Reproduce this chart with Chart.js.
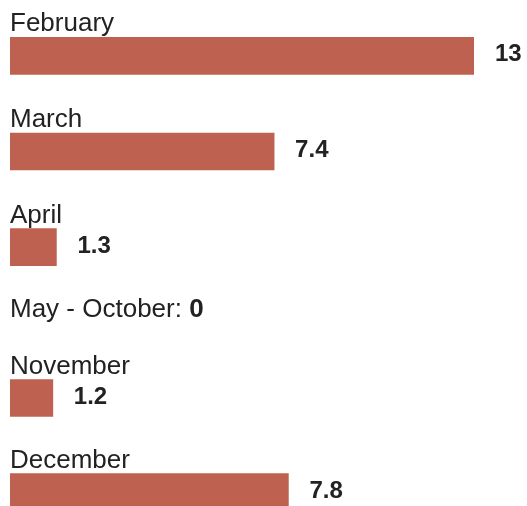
<!DOCTYPE html>
<html>
<head>
<meta charset="utf-8">
<script src="https://cdn.jsdelivr.net/npm/chart.js@4.4.1/dist/chart.umd.min.js"></script>
<style>
  html, body { margin: 0; padding: 0; background: #fff; overflow: hidden; }
  body { width: 527px; height: 506px; position: relative; font-family: Arial, "Liberation Sans", sans-serif; }
  .box { position: absolute; left: 0; width: 527px; }
  #topBox { top: 0; height: 295px; }
  #bottomBox { top: 351px; height: 188px; }
  #gapRow { position: absolute; left: 10px; top: 295px; font-size: 26px; line-height: 26px; color: #222; white-space: nowrap; }
  #gapRow b { font-weight: bold; }
</style>
</head>
<body>
<div class="box" id="topBox"><canvas id="topChart"></canvas></div>
<div id="gapRow"></div>
<div class="box" id="bottomBox"><canvas id="bottomChart"></canvas></div>
<script>
// data
const topMonths = ['February', 'March', 'April'];
const topValues = [13, 7.4, 1.3];
const gapLabel = 'May - October';
const gapValue = 0;
const bottomMonths = ['November', 'December'];
const bottomValues = [1.2, 7.8];

const barColor = '#bf6150';
const textColor = '#222222';
const fontFamily = 'Arial, "Liberation Sans", sans-serif';
const xMax = 13;

document.getElementById('gapRow').innerHTML = gapLabel + ': <b>' + gapValue + '</b>';

// draws month name above each bar and the value to its right
const barLabels = {
    id: 'barLabels',
    afterDatasetsDraw(chart) {
        const ctx = chart.ctx;
        const meta = chart.getDatasetMeta(0);
        const labels = chart.data.labels;
        const values = chart.data.datasets[0].data;
        ctx.save();
        ctx.fillStyle = textColor;
        meta.data.forEach((bar, i) => {
            const top = bar.y - bar.height / 2;
            ctx.font = '26px ' + fontFamily;
            ctx.textAlign = 'left';
            ctx.textBaseline = 'alphabetic';
            ctx.fillText(labels[i], chart.chartArea.left, top - 6);

            ctx.font = 'bold 24px ' + fontFamily;
            ctx.textBaseline = 'middle';
            ctx.fillText(String(values[i]), bar.x + 21, bar.y - 1);
        });
        ctx.restore();
    }
};

function makeChart(canvasId, labels, values, padding) {
    return new Chart(document.getElementById(canvasId).getContext('2d'), {
        type: 'bar',
        data: {
            labels: labels,
            datasets: [{
                data: values,
                backgroundColor: barColor,
                borderWidth: 0,
                barThickness: 37
            }]
        },
        options: {
            indexAxis: 'y',
            responsive: true,
            maintainAspectRatio: false,
            animation: false,
            layout: { padding: padding },
            scales: {
                x: { display: false, min: 0, max: xMax },
                y: { display: false }
            },
            plugins: {
                legend: { display: false },
                tooltip: { enabled: false }
            }
        },
        plugins: [barLabels]
    });
}

makeChart('topChart', topMonths, topValues, { left: 10, right: 53, top: 8, bottom: 0 });
makeChart('bottomChart', bottomMonths, bottomValues, { left: 10, right: 53, top: 0, bottom: 0 });
</script>
</body>
</html>
